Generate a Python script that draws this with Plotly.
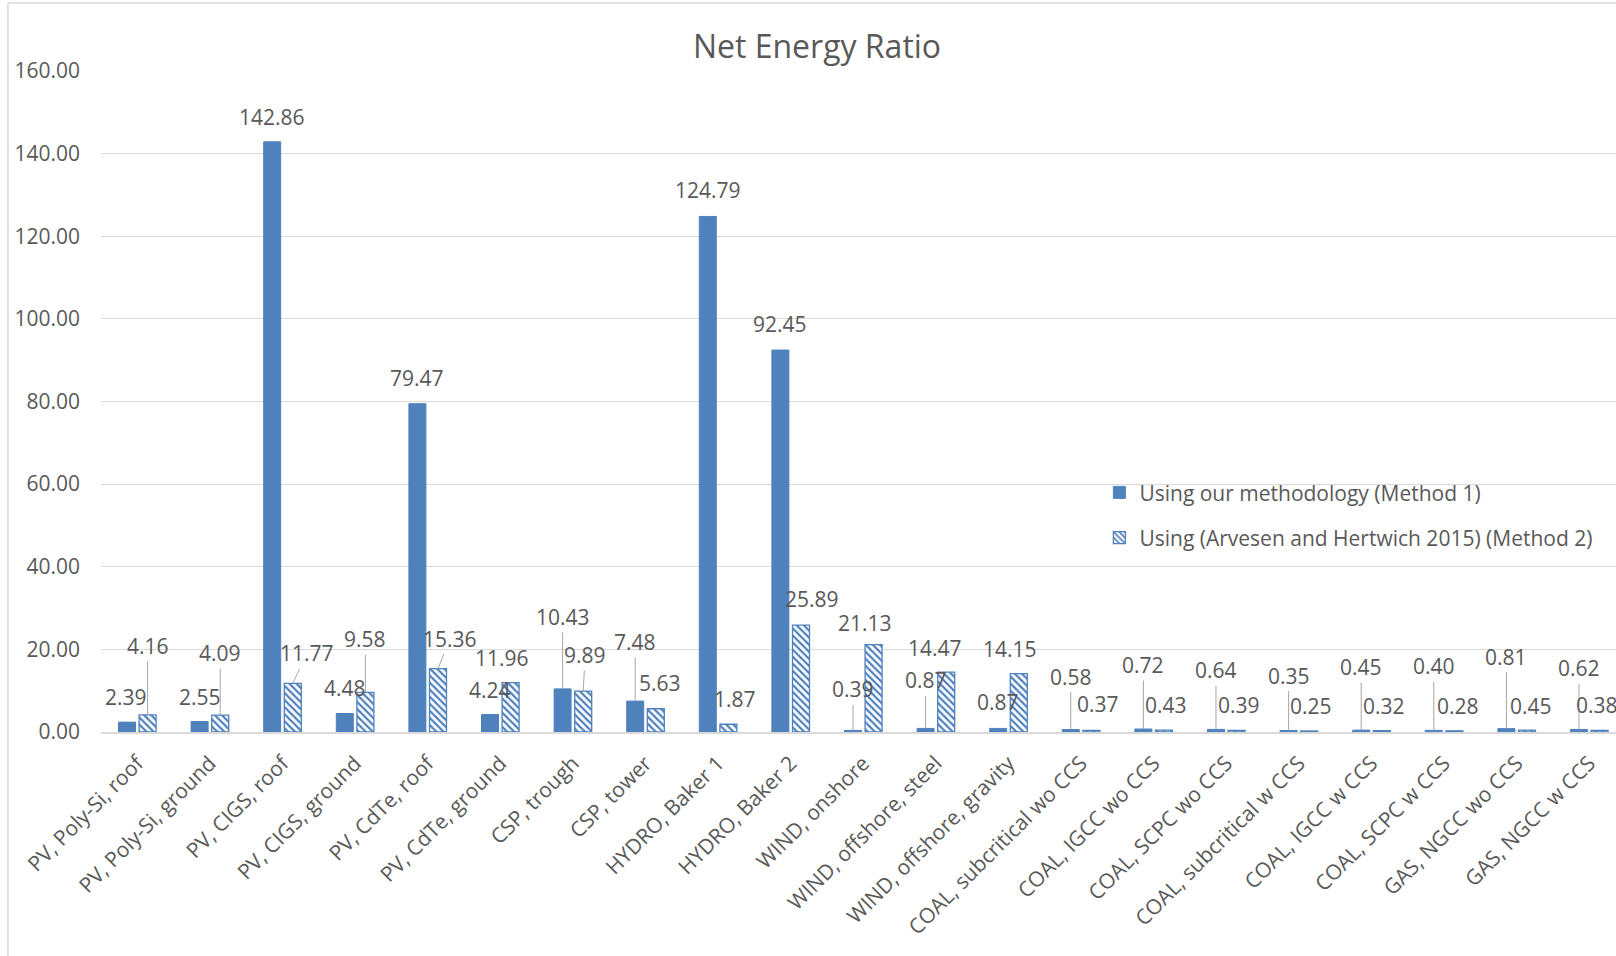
import plotly.graph_objects as go

# Technologies compared
categories = [
    "PV, Poly-Si, roof", "PV, Poly-Si, ground", "PV, CIGS, roof", "PV, CIGS, ground",
    "PV, CdTe, roof", "PV, CdTe, ground", "CSP, trough", "CSP, tower",
    "HYDRO, Baker 1", "HYDRO, Baker 2", "WIND, onshore", "WIND, offshore, steel",
    "WIND, offshore, gravity", "COAL, subcritical wo CCS", "COAL, IGCC wo CCS",
    "COAL, SCPC wo CCS", "COAL, subcritical w CCS", "COAL, IGCC w CCS",
    "COAL, SCPC w CCS", "GAS, NGCC wo CCS", "GAS, NGCC w CCS",
]

# Net energy ratio, Method 1
method1 = [2.39, 2.55, 142.86, 4.48, 79.47, 4.24, 10.43, 7.48, 124.79, 92.45,
           0.39, 0.87, 0.87, 0.58, 0.72, 0.64, 0.35, 0.45, 0.40, 0.81, 0.62]

# Net energy ratio, Method 2
method2 = [4.16, 4.09, 11.77, 9.58, 15.36, 11.96, 9.89, 5.63, 1.87, 25.89,
           21.13, 14.47, 14.15, 0.37, 0.43, 0.39, 0.25, 0.32, 0.28, 0.45, 0.38]

series_names = ["Using our methodology (Method 1)",
                "Using (Arvesen and Hertwich 2015) (Method 2)"]

y_ticks = [0, 20, 40, 60, 80, 100, 120, 140, 160]

# Data-label placement (pixel offsets of the label from the top of its bar,
# and whether a leader line is drawn back to the bar)
m1_label_dx = [-1, 0, 0, 0, 0, 0, 0, 0, 0, 0, 0, 0, 0, 0, 0, 0, 0, 0, 0, 0, 0]
m1_label_dy = [-25, -24, -25, -25, -26, -24, -72, -59, -26, -26, -41, -48, -26,
               -53, -64, -59, -55, -63, -64, -72, -61]
m1_leader = [False, False, False, False, False, False, True, True, False, False,
             True, True, False, True, True, True, True, True, True, True, True]

m2_label_dx = [0, 0, 14, 0, 12, -9, 2, 4, 7, 11, -9, -11, -9, 7, 2, 2, 2, 2, 4, 4, -3]
m2_label_dy = [-69, -62, -30, -53, -30, -25, -36, -26, -25, -26, -22, -24, -25,
               -26, -25, -25, -25, -25, -25, -24, -25]
m2_leader = [True, True, True, True, True, False, True, False, False, False,
             False, False, False, False, False, False, False, False, False, False, False]

BLUE = "#4f81bd"
TEXT = "#595959"
GRID = "#d9d9d9"
FONT = "Open Sans"

fig = go.Figure()
fig.add_trace(go.Bar(
    x=categories, y=method1, name=series_names[0], legendgroup="m1",
    marker=dict(color=BLUE, line=dict(color=BLUE, width=1)),
))
fig.add_trace(go.Bar(
    x=categories, y=method2, name=series_names[1], legendgroup="m2",
    marker=dict(color="white", line=dict(color=BLUE, width=1.3),
                pattern=dict(shape="\\", fgcolor=BLUE, bgcolor="white",
                             size=5, solidity=0.45, fillmode="replace")),
))

# Value labels
bar_offset = [-10.3, 10.3]
annotations = []
for k, (vals, dxs, dys, leads) in enumerate([
        (method1, m1_label_dx, m1_label_dy, m1_leader),
        (method2, m2_label_dx, m2_label_dy, m2_leader)]):
    for cat, v, dx, dy, lead in zip(categories, vals, dxs, dys, leads):
        common = dict(x=cat, y=v, xref="x", yref="y", text=f"{v:.2f}",
                      font=dict(family=FONT, size=21, color=TEXT))
        if lead:
            annotations.append(dict(**common, showarrow=True, arrowhead=0,
                                    arrowwidth=1, arrowcolor="#a6a6a6",
                                    standoff=0, ax=dx, ay=dy,
                                    xshift=bar_offset[k]))
        else:
            annotations.append(dict(**common, showarrow=False,
                                    xanchor="center", yanchor="middle",
                                    xshift=bar_offset[k] + dx, yshift=-dy))

# Chart-area border (left and top edges)
shapes = [
    dict(type="line", xref="paper", yref="paper", x0=-0.0614, x1=-0.0614,
         y0=-0.5, y1=1.103, line=dict(color=GRID, width=1.5)),
    dict(type="line", xref="paper", yref="paper", x0=-0.0614, x1=1.2,
         y0=1.103, y1=1.103, line=dict(color=GRID, width=1.5)),
]

fig.update_layout(
    width=1616, height=956, autosize=False,
    margin=dict(l=101, r=0, t=71, b=224, pad=0),
    paper_bgcolor="white", plot_bgcolor="white",
    font=dict(family=FONT, color=TEXT, size=21),
    title=dict(text="Net Energy Ratio", x=817 / 1616, xanchor="center",
               y=1 - 47 / 956, yanchor="middle",
               font=dict(family=FONT, size=32, color=TEXT)),
    barmode="group", bargap=0.4325, bargroupgap=0.175,
    legend=dict(x=0.659, y=0.393, xanchor="left", yanchor="top",
                font=dict(family=FONT, size=21, color=TEXT),
                bgcolor="rgba(0,0,0,0)", tracegroupgap=15,
                traceorder="grouped"),
    annotations=annotations, shapes=shapes,
)
fig.update_xaxes(type="category", range=[-0.5, 20.368], tickangle=-45,
                 tickfont=dict(family=FONT, size=21, color=TEXT),
                 showgrid=False, showline=True, linecolor=GRID, linewidth=1.5,
                 ticks="", ticklabelstandoff=9)
fig.update_yaxes(range=[0, 160], tickvals=y_ticks, tickformat=".2f",
                 showgrid=True, gridcolor=GRID, gridwidth=1.3,
                 zeroline=False, showline=False, ticks="",
                 ticklabelstandoff=20,
                 tickfont=dict(family=FONT, size=21, color=TEXT))

fig.write_html("out.html")
